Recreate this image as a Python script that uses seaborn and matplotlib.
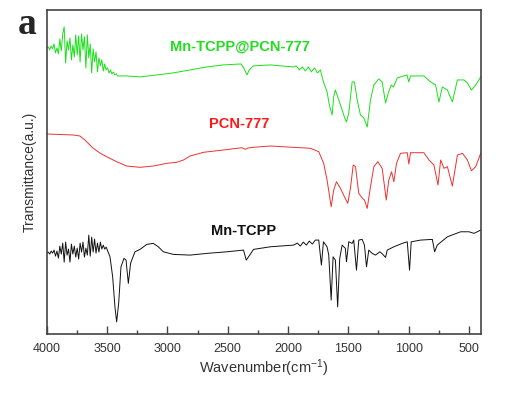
import numpy as np
import matplotlib
matplotlib.use('Agg')
import matplotlib.pyplot as plt
import seaborn as sns

# FTIR spectra, wavenumber (cm-1) vs transmittance (a.u., curves stacked as shown)

# Mn-TCPP@PCN-777 (green)
green_noise_wn = np.arange(4000, 3410, -12)
green_noise_t = [286, 287, 284, 288, 285, 290, 281, 286, 280, 295,
                 283, 300, 307, 271, 293, 284, 296, 274, 289, 277,
                 299, 279, 298, 272, 300, 284, 297, 266, 299, 276,
                 290, 261, 285, 272, 282, 262, 276, 268, 274, 263,
                 270, 264, 266, 261, 264, 260, 262, 259, 260, 258]
green_wn = [3338, 3227, 2953, 2812, 2673, 2537, 2388, 2363, 2340, 2321, 2288, 2147,
            1956, 1931, 1906, 1881, 1856, 1831, 1806, 1781, 1756, 1731,
            1706, 1676, 1657, 1634, 1621, 1607, 1579, 1551, 1532, 1515, 1496,
            1468, 1449, 1426, 1399, 1371, 1343, 1316, 1288, 1247, 1219, 1191,
            1168, 1144, 1125, 1094, 1013, 998, 984, 873, 817, 776, 748, 720,
            678, 637, 595, 540, 512, 479, 443, 402]
green_t = [258, 257, 261, 264, 267, 269, 270, 265, 259, 264, 268, 269,
           267, 268, 264, 267, 263, 267, 262, 266, 261, 264,
           252, 242, 229, 219, 237, 244, 234, 224, 217, 212, 221,
           252, 252, 234, 219, 216, 207, 234, 249, 255, 252, 231,
           241, 249, 247, 256, 259, 252, 258, 258, 252, 249, 232, 247,
           244, 232, 254, 254, 251, 244, 249, 257]

# PCN-777 (red)
red_wn = [4000, 3892, 3781, 3726, 3684, 3615, 3560, 3504, 3421, 3338, 3227,
          3117, 3005, 2922, 2867, 2812, 2701, 2535, 2382, 2355, 2330, 2286,
          2147, 1814, 1745, 1704, 1676, 1642, 1621, 1598, 1565, 1532, 1504,
          1482, 1459, 1440, 1413, 1385, 1366, 1343, 1316, 1288, 1255, 1219,
          1185, 1164, 1141, 1122, 1100, 1067, 1011, 998, 984, 873, 831, 790,
          756, 734, 706, 678, 637, 595, 553, 512, 479, 443, 402]
red_t = [200, 199.5, 199, 198, 194, 185.7, 181, 177.3, 172.3, 168, 166.7,
         168, 170.7, 171.7, 174, 178, 181.7, 184, 186.3, 184.7, 186, 186.7,
         188, 185.7, 182.3, 170.7, 154, 127.3, 144, 152.3, 145.7, 137.3, 130.7,
         146, 169, 167.3, 140.7, 136, 134, 125.7, 147.3, 167.3, 172.3, 165.7,
         134, 154, 162.3, 152.3, 170.7, 180.7, 181.3, 170, 181.3, 181.3, 174, 169,
         149, 174, 165.7, 167.3, 148, 179, 180.7, 174, 163.3, 167.3, 180.7]

# Mn-TCPP (black)
black_noise_wn = np.arange(4000, 3500, -12)
black_noise_t = [81, 82, 80, 83, 81, 84, 78, 83, 76, 88,
                 80, 91, 72, 92, 79, 85, 72, 90, 80, 88,
                 77, 86, 75, 91, 82, 92, 77, 86, 79, 99,
                 78, 97, 82, 95, 81, 91, 82, 92, 85, 89,
                 85, 87]
black_wn = [3476, 3454, 3435, 3421, 3404, 3385, 3360, 3343, 3324, 3305, 3269,
            3227, 3171, 3117, 3075, 3034, 2950, 2812, 2673, 2507, 2369, 2346,
            2327, 2286, 2147, 1953, 1922, 1898, 1873, 1848, 1823, 1798, 1773,
            1745, 1723, 1706, 1676, 1662, 1642, 1626, 1607, 1588, 1571, 1551,
            1524, 1515, 1496, 1468, 1455, 1432, 1413, 1385, 1366, 1349, 1330,
            1302, 1274, 1238, 1216, 1191, 1177, 1122, 1052, 1011, 992, 978,
            900, 803, 784, 762, 678, 568, 499, 457, 402]
black_t = [77.3, 57.3, 27.3, 12.3, 31, 67.3, 75.7, 74, 50.7, 71, 82.3,
           84.7, 89.7, 90.7, 87.3, 82.3, 79.7, 79, 80.7, 82.3, 84, 74,
           77.3, 84.7, 87.3, 89, 91, 88, 92, 89, 93, 90, 94,
           94, 69, 92.3, 87.3, 79, 34, 77.3, 74, 27.3, 75.7, 89,
           85.7, 72.3, 92.3, 90.7, 94, 64, 94, 94.7, 89, 67.3, 84,
           80.7, 79, 82.3, 80, 76.7, 84, 87.3, 90.7, 92.3, 64, 92.3,
           94, 94.7, 82.3, 89, 97.3, 102.3, 102.3, 100.7, 104]

labels = ['Mn-TCPP@PCN-777', 'PCN-777', 'Mn-TCPP']
colors = ['#18e018', '#ee3030', '#111111']
text_colors = ['#22dd22', '#ff1a1a', '#111111']
xticks = [4000, 3500, 3000, 2500, 2000, 1500, 1000, 500]

sns.set_style('white')
plt.rcParams['font.family'] = ['Liberation Sans', 'DejaVu Sans']
plt.rcParams['mathtext.fontset'] = 'custom'
plt.rcParams['mathtext.rm'] = 'Liberation Sans'
plt.rcParams['mathtext.default'] = 'regular'

fig = plt.figure(figsize=(5.32, 3.95), dpi=100)
ax = fig.add_axes([0.088, 0.154, 0.816, 0.821])

series = [
    (np.concatenate([green_noise_wn, green_wn]), green_noise_t + green_t),
    (np.array(red_wn), red_t),
    (np.concatenate([black_noise_wn, black_wn]), black_noise_t + black_t),
]
for (wn, t), c in zip(series, colors):
    sns.lineplot(x=wn, y=t, ax=ax, color=c, linewidth=0.7, estimator=None, sort=False)

ax.set_xlim(4000, 400)
ax.set_ylim(0, 324)
ax.set_xticks(xticks)
ax.set_xticks([3750, 3250, 2750, 2250, 1750, 1250, 750], minor=True)
ax.set_yticks([])
ax.tick_params(axis='x', which='major', direction='in', length=6, width=1, color='#444444',
               labelsize=9, labelcolor='#333333', pad=6, bottom=True, top=False)
ax.tick_params(axis='x', which='minor', direction='in', length=3, width=1, color='#444444',
               bottom=True, top=False)
for s in ax.spines.values():
    s.set_color('#444444')
    s.set_linewidth(1.2)

ax.set_xlabel('Wavenumber(cm$^{-1}$)', fontsize=10.5, color='#333333', labelpad=2)
ax.set_ylabel('Transmittance(a.u.)', fontsize=10, color='#333333', labelpad=7)

label_pos = [(2396, 287), (2404, 210), (2371, 103)]
for lab, (x, y), c in zip(labels, label_pos, text_colors):
    ax.text(x, y, lab, color=c, fontsize=10.5, fontweight='bold', ha='center', va='center')

fig.text(0.051, 0.937, 'a', fontsize=27, fontweight='bold', family='Liberation Serif',
         ha='center', va='center')

fig.savefig('out.png', dpi=100)
